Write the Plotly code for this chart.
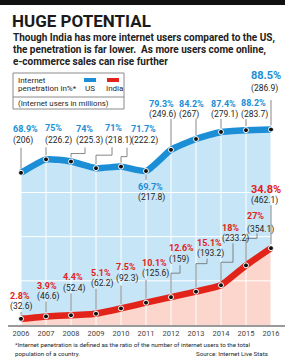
import plotly.graph_objects as go

# ---------------- data ----------------
years = [2006, 2007, 2008, 2009, 2010, 2011, 2012, 2013, 2014, 2015, 2016]
us_pct = [68.9, 75, 74, 71, 71.7, 69.7, 79.3, 84.2, 87.4, 88.2, 88.5]
us_users = ["206", "226.2", "225.3", "218.1", "222.2", "217.8", "249.6", "267", "279.1", "283.7", "286.9"]
us_pct_text = ["68.9%", "75%", "74%", "71%", "71.7%", "69.7%", "79.3%", "84.2%", "87.4%", "88.2%", "88.5%"]
in_pct = [2.8, 3.9, 4.4, 5.1, 7.5, 10.1, 12.6, 15.1, 18, 27, 34.8]
in_users = ["32.6", "46.6", "52.4", "62.2", "92.3", "125.6", "159", "193.2", "233.2", "354.1", "462.1"]
in_pct_text = ["2.8%", "3.9%", "4.4%", "5.1%", "7.5%", "10.1%", "12.6%", "15.1%", "18%", "27%", "34.8%"]
grid_levels = [20, 40, 60]

# ---------------- styling / layout ----------------
W, H = 292, 362
ML, MR, MT, MB = 8, 7, 100, 37
PW, PH = W - ML - MR, H - MT - MB
FONT = "Roboto, DejaVu Sans Condensed, sans-serif"
US_LINE, US_FILL = "#1b8ed6", "#c6e5f7"
IN_LINE, IN_FILL = "#e2231a", "#fcd6cd"
LEADER = "#6a6a6a"
TXT = "#262626"


def px(x):
    return (x - ML) / PW


def py(y):
    return (H - MB - y) / PH


# label offsets (pixels from point): dx, dy of pct-line centre, dy of value-line centre (down positive)
us_lab = [(-9, -44, -32), (-2, -31, -19), (4, -33, -21), (8, -40, -28), (9, -38, -26),
          (-9, 15.5, 26.5), (-23, -46, -35), (-18, -35.5, -24.5), (-11, -28.4, -17.4),
          (-6, -26.7, -15.7), (-21, -54, -41)]
in_lab = [(-12, -23, -12), (-10, -30, -20), (-9, -38, -27), (-6, -41, -30), (-6, -41, -30),
          (-5, -40, -29), (-3, -49, -38), (0, -49, -38), (0, -57, -47), (0, -49, -36),
          (-21, -59, -48)]
# leader paths in pixels (down positive)
us_lead = [[(0, -4), (0, -25)], [(0, -4), (0, -12)], [(0, -4), (0, -8), (14, -8), (14, -14)],
           [(0, -4), (0, -13), (16, -13), (16, -21)], [(0, -4), (0, -10), (6, -10), (6, -19)],
           [(0, 4), (0, 9)], [(0, -4), (0, -31)], [(0, -4), (0, -20)], [(0, -4), (0, -13)],
           [(0, -4), (0, -11)], [(0, -4), (0, -36)]]
in_lead = [[(0, -4), (0, -7)], [(0, -4), (0, -15)], [(0, -4), (0, -22)], [(0, -4), (0, -25)],
           [(0, -4), (0, -23)], [(0, -4), (0, -23)], [(0, -4), (0, -24), (9, -24), (9, -32)],
           [(0, -4), (0, -28), (11, -28), (11, -33)], [(0, -4), (0, -23), (12, -23), (12, -42)],
           [(0, -4), (0, -27), (11, -27), (11, -32)], [(0, -4), (0, -43)]]

fig = go.Figure()

# fills
fig.add_trace(go.Scatter(x=years, y=us_pct, mode="lines", fill="tozeroy", fillcolor=US_FILL,
                         line=dict(width=0, shape="spline", smoothing=0.5), hoverinfo="skip"))
fig.add_trace(go.Scatter(x=years, y=in_pct, mode="lines", fill="tozeroy", fillcolor=IN_FILL,
                         line=dict(width=0, shape="spline", smoothing=0.3), hoverinfo="skip"))

# white grid over fills
gx, gy = [], []
for yr in years:
    gx += [yr, yr, None]
    gy += [0, 100, None]
for lv in grid_levels:
    gx += [years[0], years[-1], None]
    gy += [lv, lv, None]
fig.add_trace(go.Scatter(x=gx, y=gy, mode="lines", line=dict(color="white", width=1),
                         hoverinfo="skip"))

# lines with markers
fig.add_trace(go.Scatter(x=years, y=us_pct, mode="lines+markers",
                         line=dict(color=US_LINE, width=6.5, shape="spline", smoothing=0.5),
                         marker=dict(size=5, color="#111", line=dict(color="white", width=1)),
                         hoverinfo="skip"))
fig.add_trace(go.Scatter(x=years, y=in_pct, mode="lines+markers",
                         line=dict(color=IN_LINE, width=6.5, shape="spline", smoothing=0.3),
                         marker=dict(size=5, color="#111", line=dict(color="white", width=1)),
                         hoverinfo="skip"))

shapes = []
annotations = []


def path_str(pts):
    return "M" + " L".join(f"{a},{-b}" for a, b in pts)


def add_labels(vals, pct_txt, users, labs, leads, color):
    for i, yr in enumerate(years):
        dx, dyp, dyv = labs[i]
        big = i == len(years) - 1
        annotations.append(dict(x=yr, y=vals[i], xref="x", yref="y", showarrow=False,
                                text=f"<b>{pct_txt[i]}</b>", xanchor="left", yanchor="middle",
                                xshift=dx, yshift=-dyp, borderpad=0,
                                font=dict(family=FONT, size=11 if big else 9, color=color)))
        annotations.append(dict(x=yr, y=vals[i], xref="x", yref="y", showarrow=False,
                                text=f"({users[i]})", xanchor="left", yanchor="middle",
                                xshift=dx, yshift=-dyv, borderpad=0,
                                font=dict(family=FONT, size=8.5, color=TXT)))
        shapes.append(dict(type="path", xref="x", yref="y", xsizemode="pixel", ysizemode="pixel",
                           xanchor=yr, yanchor=vals[i], path=path_str(leads[i]),
                           line=dict(color=LEADER, width=0.8), layer="above"))


add_labels(us_pct, us_pct_text, us_users, us_lab, us_lead, US_LINE)
add_labels(in_pct, in_pct_text, in_users, in_lab, in_lead, IN_LINE)

# top bar
shapes.append(dict(type="rect", xref="paper", yref="paper", x0=px(0), x1=px(285), y0=py(0), y1=py(5),
                   fillcolor="#111", line=dict(width=0), layer="above"))
# legend box
shapes.append(dict(type="rect", xref="paper", yref="paper", x0=px(13), x1=px(124), y0=py(73), y1=py(109),
                   fillcolor="rgba(0,0,0,0)", line=dict(color="#8a8a8a", width=1), layer="above"))
shapes.append(dict(type="line", xref="paper", yref="paper", x0=px(13), x1=px(124), y0=py(97), y1=py(97),
                   line=dict(color="#8a8a8a", width=1), layer="above"))
shapes.append(dict(type="line", xref="paper", yref="paper", x0=px(84), x1=px(96), y0=py(80), y1=py(80),
                   line=dict(color=US_LINE, width=4), layer="above"))
shapes.append(dict(type="line", xref="paper", yref="paper", x0=px(107), x1=px(119), y0=py(80), y1=py(80),
                   line=dict(color=IN_LINE, width=4), layer="above"))


def txt(x, y, s, size, color=TXT, anchor="left", bold=False):
    annotations.append(dict(x=px(x), y=py(y), xref="paper", yref="paper", showarrow=False,
                            text=f"<b>{s}</b>" if bold else s, xanchor=anchor, yanchor="middle",
                            borderpad=0, font=dict(family=FONT, size=size, color=color)))


txt(11, 21, "HUGE POTENTIAL", 17, color="#1a1a1a", bold=True)
txt(12, 37.5, "Though India has more internet users compared to the US,", 10, color="#222", bold=True)
txt(12, 49.5, "the penetration is far lower.  As more users come online,", 10, color="#222", bold=True)
txt(12, 61.5, "e-commerce sales can rise further", 10, color="#222", bold=True)

txt(17, 80, "Internet", 8)
txt(17, 89, "penetration in%*", 8)
txt(84, 89, "US", 8)
txt(105, 89, "India", 8)
txt(17, 103, "(Internet users in millions)", 7.8)

txt(14, 345, "*Internet penetration is defined as the ratio of the number of internet users to the total", 6.2)
txt(14, 353.5, "population of a country.", 6.2)
txt(269, 353.5, "Source: Internet Live Stats", 6.2, anchor="right")

fig.update_layout(
    width=W, height=H, margin=dict(l=ML, r=MR, t=MT, b=MB),
    paper_bgcolor="white", plot_bgcolor="white", showlegend=False,
    shapes=shapes, annotations=annotations,
    xaxis=dict(range=[2005.48, 2016.56], tickvals=years, ticktext=[str(y) for y in years],
               showgrid=False, zeroline=False, showline=True, linecolor="#9a9a9a", linewidth=1.5,
               ticks="", tickfont=dict(family=FONT, size=7.5, color="#444"), fixedrange=True),
    yaxis=dict(range=[0, 101.86], showgrid=False, zeroline=False, showticklabels=False,
               fixedrange=True),
    font=dict(family=FONT),
)

fig.write_html("out.html", config={"displayModeBar": False})
